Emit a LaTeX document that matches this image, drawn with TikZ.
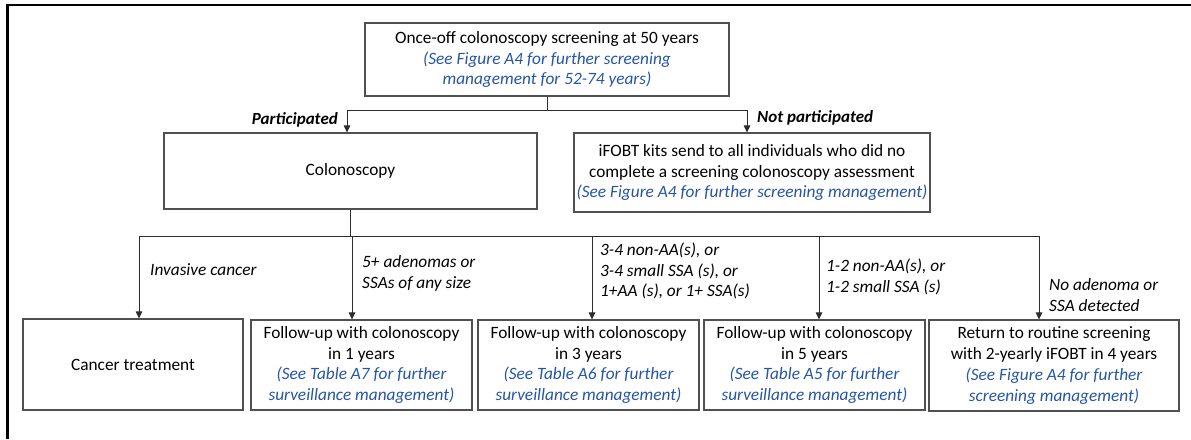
\documentclass[tikz,border=0pt]{standalone}
\usepackage{fontspec}
\setmainfont{Carlito}
\usetikzlibrary{arrows.meta,calc}
\definecolor{linkblue}{RGB}{38,84,166}
\definecolor{boxline}{RGB}{80,80,80}
\definecolor{wire}{RGB}{45,45,45}
\newcommand{\seeref}[1]{{\color{linkblue}\itshape #1}}
\begin{document}
\begin{tikzpicture}[x=1pt,y=-1pt,
  every node/.style={font=\fontsize{17.3}{20.8}\selectfont},
  box/.style={draw=boxline,line width=1.1pt,inner sep=0pt,align=center},
  lab/.style={inner sep=0pt,align=left,font=\fontsize{17.3}{20.8}\selectfont\itshape},
  blab/.style={inner sep=0pt,font=\fontsize{17}{20.8}\selectfont\bfseries\itshape},
  wireline/.style={draw=wire,line width=1pt},
  arr/.style={wireline,-{Triangle[width=6.5pt,length=7pt]}}]
\useasboundingbox (0,0) rectangle (1191,439);

% outer frame
\draw[line width=2.2pt] (7.5,439) -- (7.5,5) -- (1191,5);

% top level
\node[box,minimum width=364pt,minimum height=73pt] (top) at (547,59.5)
  {Once-off colonoscopy screening at 50 years\\
   \seeref{(See Figure A4 for further screening}\\
   \seeref{management for 52-74 years)}};

\node[box,minimum width=373pt,minimum height=76pt] (colo) at (350.5,171) {Colonoscopy};

\node[box,minimum width=356pt,minimum height=79pt] (ifobt) at (752,172.5)
  {iFOBT kits send to all individuals who did no\\
   complete a screening colonoscopy assessment\\
   \seeref{(See Figure A4 for further screening management)}};

% outcome boxes
\node[box,minimum width=220pt,minimum height=91pt] (cancer) at (133,364.5) {Cancer treatment};
\node[box,minimum width=221pt,minimum height=90pt] (fu1) at (361.5,365)
  {Follow-up with colonoscopy\\ in 1 years\\
   \seeref{(See Table A7 for further}\\ \seeref{surveillance management)}};
\node[box,minimum width=221pt,minimum height=90pt] (fu3) at (588.5,365)
  {Follow-up with colonoscopy\\ in 3 years\\
   \seeref{(See Table A6 for further}\\ \seeref{surveillance management)}};
\node[box,minimum width=221pt,minimum height=90pt] (fu5) at (814.5,365)
  {Follow-up with colonoscopy\\ in 5 years\\
   \seeref{(See Table A5 for further}\\ \seeref{surveillance management)}};
\node[box,minimum width=250pt,minimum height=91pt] (routine) at (1054,365.5)
  {Return to routine screening\\ with 2-yearly iFOBT in 4 years\\
   \seeref{(See Figure A4 for further}\\ \seeref{screening management)}};

% first split
\coordinate (pl) at (347,110);
\coordinate (pr) at (747,110);
\draw[wireline] (top.south) -- (top.south |- pl);
\draw[wireline] (pl) -- (pr);
\draw[arr] (pl) -- (pl |- colo.north);
\draw[arr] (pr) -- (pr |- ifobt.north);
\node[blab,anchor=east] (lp) at (338,119.5) {Participated};
\node[blab,anchor=west] (lnp) at (757,118) {Not participated};

% second split
\coordinate (b1) at (139,236);
\coordinate (b2) at (352,236);
\coordinate (b3) at (592,236);
\coordinate (b4) at (819,236);
\coordinate (b5) at (1039,236);
\draw[wireline] (colo.south) -- (colo.south |- b1);
\draw[wireline] (b1) -- (b5);
\draw[arr] (b1) -- (b1 |- cancer.north);
\draw[arr] (b2) -- (b2 |- fu1.north);
\draw[arr] (b3) -- (b3 |- fu3.north);
\draw[arr] (b4) -- (b4 |- fu5.north);
\draw[arr] (b5) -- (b5 |- routine.north);

\node[lab,anchor=west] (l1) at (150,270) {Invasive cancer};
\node[lab,anchor=west] (l2) at (362,273.5) {5+ adenomas or\\ SSAs of any size};
\node[lab,anchor=west] (l3) at (600,271) {3-4 non-AA(s), or\\ 3-4 small SSA (s), or\\ 1+AA (s), or 1+ SSA(s)};
\node[lab,anchor=west] (l4) at (826,277) {1-2 non-AA(s), or\\ 1-2 small SSA (s)};
\node[lab,anchor=west] (l5) at (1049,295) {No adenoma or\\ SSA detected};
\end{tikzpicture}
\end{document}
